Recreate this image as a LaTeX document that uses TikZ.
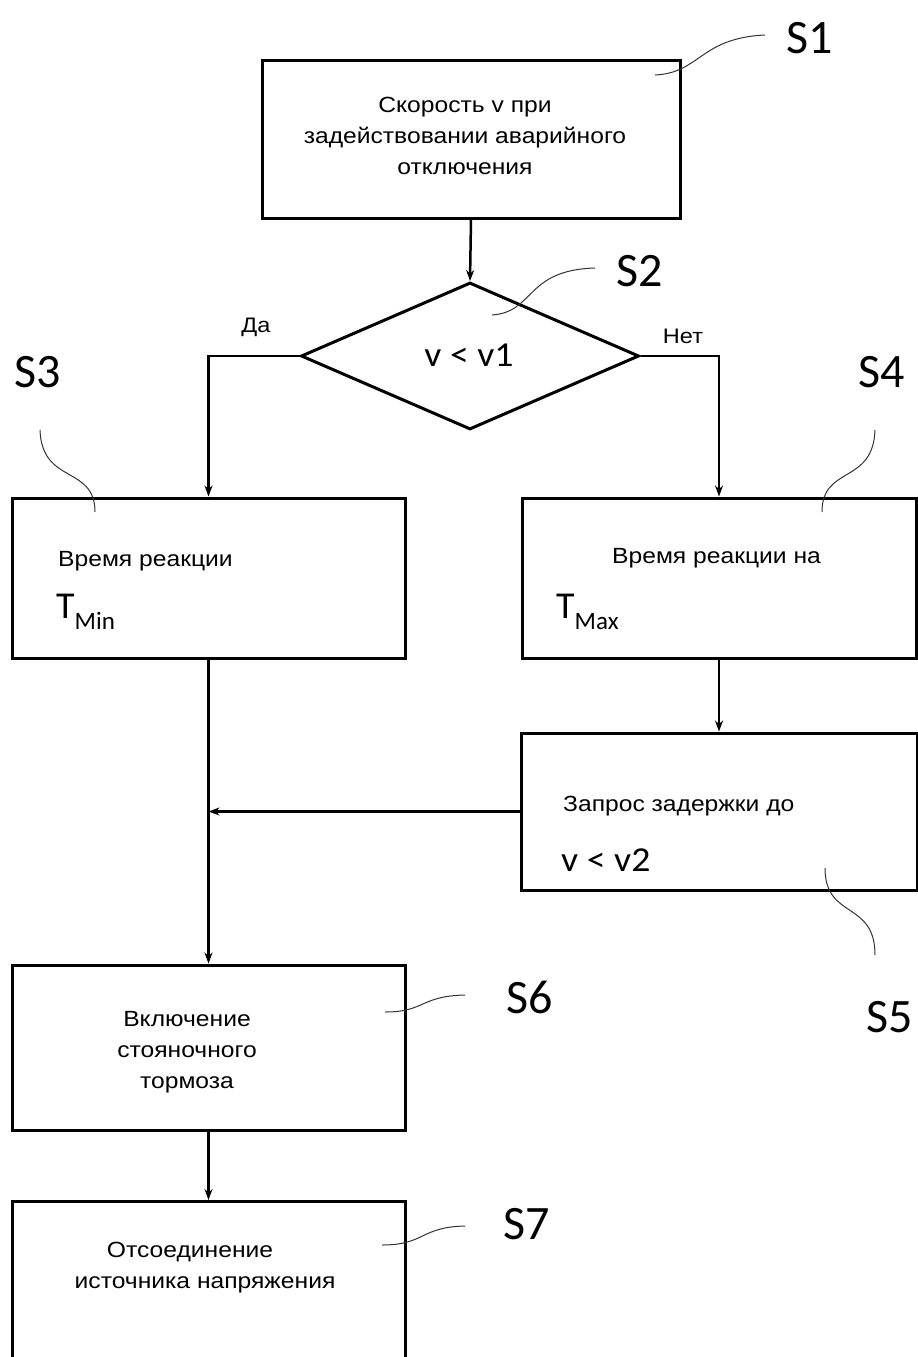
\documentclass[tikz,border=0pt]{standalone}
\usepackage{fontspec}
\setmainfont[FakeStretch=1.12]{Liberation Sans}
\newfontfamily\lab{Carlito}
\newfontfamily\labw[FakeStretch=1.08]{Carlito}
\usetikzlibrary{shapes.geometric,arrows.meta}
\tikzset{
  box/.style={draw, line width=3pt, inner sep=0pt, rectangle},
  txt/.style={font=\fontsize{22}{31}\selectfont, inner sep=0pt, align=center},
  ltxt/.style={font=\fontsize{22}{31}\selectfont, inner sep=0pt, anchor=west},
  slab/.style={font=\lab\fontsize{48}{50}\selectfont, inner sep=0pt},
  cond/.style={font=\labw\fontsize{35}{36}\selectfont, inner sep=0pt},
  yn/.style={font=\fontsize{21}{22}\selectfont, inner sep=0pt},
  arr/.style={line width=2.5pt, -{Stealth[length=11pt,width=8pt]}},
  lead/.style={line width=1pt, black!80},
}
\begin{document}
\begin{tikzpicture}[x=1pt,y=-1pt]
\useasboundingbox (0,0) rectangle (918,1357);
\clip (0,0) rectangle (918,1357);
% boxes
\node[box, minimum width=418, minimum height=158] (s1) at (471,139) {};
\node[txt] (t1) at (465,136) {Скорость v при\\задействовании аварийного\\отключения};
\node[draw, line width=3pt, diamond, inner sep=0pt, minimum width=338, minimum height=147] (d) at (470,356) {};
\node[cond] (t2) at (469,355) {v < v1};
\node[box, minimum width=393, minimum height=160] (s3) at (208.5,578) {};
\node[ltxt] (t3a) at (58,561) {Время реакции};
\node[anchor=west, inner sep=0pt, font=\lab\fontsize{38}{40}\selectfont] (t3b) at (56,612) {T\raisebox{-0.3em}{\fontsize{25}{26}\selectfont Min}};
\node[box, minimum width=394, minimum height=160] (s4) at (719,578) {};
\node[ltxt] (t4a) at (612,558) {Время реакции на};
\node[anchor=west, inner sep=0pt, font=\lab\fontsize{38}{40}\selectfont] (t4b) at (556,612) {T\raisebox{-0.3em}{\fontsize{25}{26}\selectfont Max}};
\node[box, minimum width=396, minimum height=157] (s5) at (719,811.5) {};
\node[ltxt] (t5a) at (563,806) {Запрос задержки до};
\node[anchor=west, inner sep=0pt, cond] (t5b) at (561,860) {v < v2};
\node[box, minimum width=393, minimum height=165] (s6) at (208.5,1047.5) {};
\node[txt] (t6) at (187,1052) {Включение\\стояночного\\тормоза};
\node[box, minimum width=393, minimum height=260, anchor=north] (s7) at (208.5,1200) {};
\node[txt] (t7) at (205,1268) {Отсоединение\hspace*{30pt}\\источника напряжения};
% labels
\node[slab] (l1) at (810,38) {S1};
\node[slab] (l2) at (640,271) {S2};
\node[slab] (l3) at (38,372) {S3};
\node[slab] (l4) at (882,372) {S4};
\node[slab] (l5) at (890,1017) {S5};
\node[slab] (l6) at (530,997) {S6};
\node[slab] (l7) at (527,1224) {S7};
\node[yn] (da) at (256,327) {Да};
\node[yn] (net) at (683,336) {Нет};
% connectors
\draw[arr] (s1.south) -- (d.north);
\draw[arr] (d.west) -| (s3.north);
\draw[arr] (d.east) -| (s4.north);
\draw[arr] (s4.south) -- (s5.north);
\draw[arr] (s5.west) -- (s5.west -| s3.south);
\draw[arr] (s3.south) -- (s6.north);
\draw[arr] (s6.south) -- (s7.north);
% leaders
\coordinate (c1) at (655,75); \coordinate (e1) at (765,35);
\draw[lead] (c1) .. controls (700,73) and (700,38) .. (e1);
\coordinate (c2) at (492,315); \coordinate (e2) at (595,268);
\draw[lead] (c2) .. controls (535,312) and (525,270) .. (e2);
\coordinate (c3) at (95,512); \coordinate (e3) at (40,430);
\draw[lead] (c3) .. controls (95,465) and (42,485) .. (e3);
\coordinate (c4) at (822,512); \coordinate (e4) at (875,430);
\draw[lead] (c4) .. controls (822,465) and (873,485) .. (e4);
\coordinate (c5) at (825,868); \coordinate (e5) at (875,955);
\draw[lead] (c5) .. controls (825,920) and (875,900) .. (e5);
\coordinate (c6) at (385,1012); \coordinate (e6) at (465,995);
\draw[lead] (c6) .. controls (425,1012) and (420,996) .. (e6);
\coordinate (c7) at (382,1245); \coordinate (e7) at (465,1226);
\draw[lead] (c7) .. controls (425,1245) and (420,1227) .. (e7);
\end{tikzpicture}
\end{document}
